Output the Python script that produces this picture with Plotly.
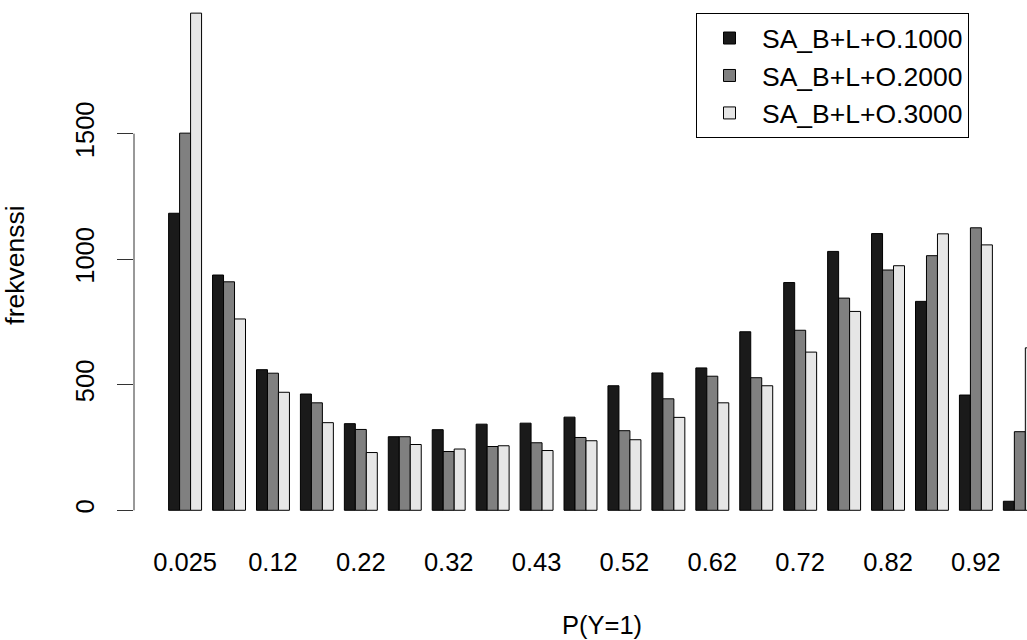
import plotly.graph_objects as go

# P(Y=1) bin midpoints (every other label is shown, as in the original)
categories = ["0.025", "0.075", "0.12", "0.18", "0.22", "0.28", "0.32", "0.38", "0.43", "0.48",
              "0.52", "0.58", "0.62", "0.68", "0.72", "0.78", "0.82", "0.88", "0.92", "0.98"]

series_names = ["SA_B+L+O.1000", "SA_B+L+O.2000", "SA_B+L+O.3000"]
s1000 = [1183, 937, 560, 463, 345, 293, 321, 343, 347, 371, 496, 547, 567, 711, 907, 1031, 1102, 832, 459, 36]
s2000 = [1502, 910, 546, 428, 322, 293, 234, 254, 269, 290, 317, 444, 534, 528, 717, 845, 957, 1014, 1125, 313]
s3000 = [1980, 762, 470, 349, 230, 262, 244, 257, 238, 277, 281, 370, 428, 496, 630, 792, 974, 1101, 1057, 647]

y_ticks = [0, 500, 1000, 1500]

colors = ["#1a1a1a", "#808080", "#e6e6e6"]
FONT = "Liberation Sans, Arial, Helvetica, sans-serif"
FS = 25.5

xs = list(range(len(categories)))
fig = go.Figure()
for name, vals, col in zip(series_names, [s1000, s2000, s3000], colors):
    fig.add_trace(go.Bar(x=xs, y=vals, name=name,
                         marker=dict(color=col, line=dict(color="black", width=1))))

shown = xs[::2]
fig.update_layout(
    width=1027, height=640,
    margin=dict(l=134, r=0, t=0, b=110),
    paper_bgcolor="white", plot_bgcolor="white",
    barmode="group", bargap=0.25, bargroupgap=0,
    font=dict(family=FONT, size=FS, color="black"),
    showlegend=True,
    legend=dict(x=(696 - 134) / 893.0, y=1 - 13.3 / 530, xanchor="left", yanchor="top",
                bordercolor="black", borderwidth=1, bgcolor="white",
                font=dict(family=FONT, size=26.5, color="black"),
                itemwidth=55, traceorder="normal"),
    xaxis=dict(range=[-1.163, 19.163], tickvals=shown,
               ticktext=[categories[i] for i in shown],
               showgrid=False, zeroline=False, showline=False, ticks="",
               ticklabelstandoff=14,
               tickfont=dict(family=FONT, size=FS, color="black")),
    yaxis=dict(range=[-78.5, 2032.3], tickvals=y_ticks, ticktext=[str(v) for v in y_ticks],
               showgrid=False, zeroline=False, showline=False,
               ticks="outside", ticklen=16, tickwidth=1, tickcolor="#333333",
               tickangle=-90, ticklabelstandoff=13,
               tickfont=dict(family=FONT, size=FS, color="black")),
)
fig.update_yaxes(title=dict(text="frekvenssi", standoff=40,
                            font=dict(family=FONT, size=26.5, color="black")))

# y axis line only between first and last tick (R style)
fig.add_shape(type="line", xref="paper", yref="y", x0=0, x1=0, y0=0, y1=1500,
              line=dict(color="#333333", width=1))

# x axis title centred like the original plot region
fig.add_annotation(text="P(Y=1)", xref="paper", yref="paper",
                   x=(601.7 - 134) / 893.0, y=-(625 - 530) / 530.0,
                   xanchor="center", yanchor="middle", showarrow=False,
                   font=dict(family=FONT, size=FS, color="black"))

fig.write_html("out.html")
